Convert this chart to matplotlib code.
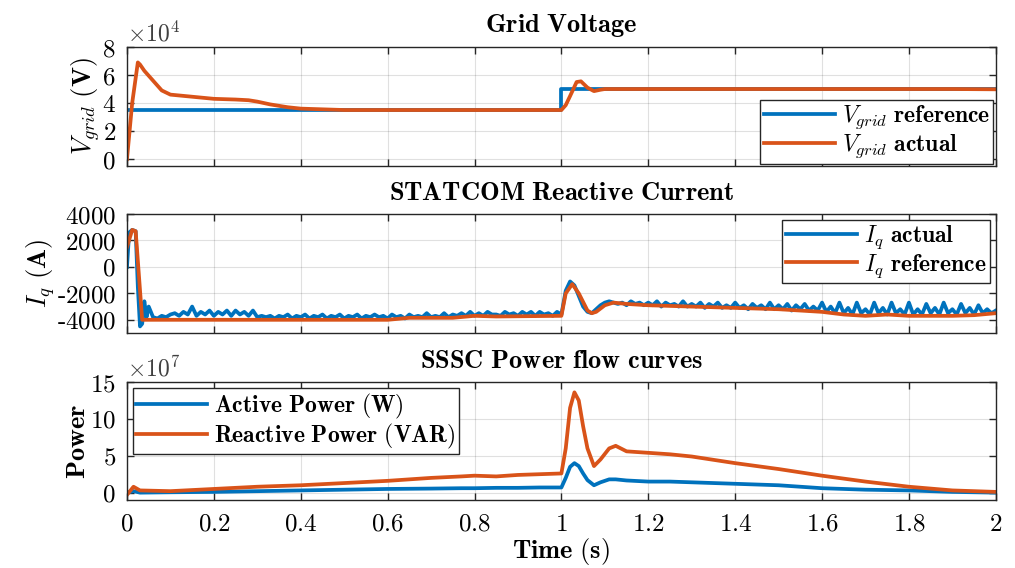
import numpy as np
import matplotlib.pyplot as plt
from matplotlib.ticker import FuncFormatter, MultipleLocator

plt.rcParams['mathtext.fontset'] = 'cm'
plt.rcParams['font.family'] = 'DejaVu Serif'

BLUE = '#0072BD'
ORANGE = '#D95319'

# grid voltage
vref_t = [0.0, 1.0, 1.0, 2.0]
vref = [35000, 35000, 50000, 50000]
vact_t = [0.0, 0.012, 0.025, 0.03, 0.04, 0.06, 0.08, 0.1, 0.15, 0.2, 0.25, 0.28, 0.3,
          0.33, 0.37, 0.4, 0.45, 0.5, 0.7, 0.9, 1.0, 1.01, 1.02, 1.035, 1.045, 1.06,
          1.075, 1.09, 1.1, 1.3, 1.5, 1.7, 1.9, 2.0]
vact = [0, 40000, 69000, 67500, 63000, 56000, 49000, 46000, 44500, 43000, 42500, 42000,
        41000, 39000, 37000, 36000, 35500, 35000, 35000, 35000, 35000, 38500, 45000,
        55000, 55500, 51000, 48500, 49500, 50000, 50000, 50000, 50000, 50000, 49800]

# STATCOM reactive current
iq_early_t = [0.0, 0.005, 0.012, 0.02, 0.025, 0.03, 0.035, 0.04, 0.045]
iq_early = [0, 2600, 2800, 2700, -1500, -4500, -4300, -2600, -3800]
iq_act = [
    -3000, -3800, -3900, -3700, -3800, -3600, -3500, -3700, -3400, -3600,
    -3000, -3700, -3400, -3600, -3300, -3700, -3400, -3600, -3300, -3700,
    -3300, -3600, -3400, -3700, -3300, -3800, -3700, -3800, -3700, -3900,
    -3700, -3800, -3600, -3900, -3700, -3800, -3600, -3900, -3700, -3800,
    -3600, -3900, -3700, -3800, -3600, -3900, -3700, -3800, -3600, -3900,
    -3700, -3800, -3600, -3800, -3700, -3900, -3600, -3800, -3700, -3900,
    -3600, -3800, -3700, -3800, -3500, -3800, -3700, -3800, -3500, -3800,
    -3600, -3700, -3500, -3700, -3400, -3700, -3500, -3700, -3400, -3600,
    -3600, -3700, -3400, -3600, -3500, -3700, -3400, -3600, -3400, -3700,
    -3400, -3600, -3500, -3700, -3400,
    -3600, -1800, -1100, -1400, -2200, -3000, -3400, -3500, -3200, -2900,
    -2700, -2600, -2700, -2800, -2700, -2900, -2600, -2800, -2700, -2900,
    -2700, -2900, -2600, -3000, -2700, -2900, -2800, -3000, -2600, -3000,
    -2800, -3000, -2700, -3100, -2800, -3000, -2700, -3100, -2900, -3100,
    -2700, -3100, -2900, -3200, -2800, -3100, -2900, -3200, -2700, -3200,
    -2900, -3200, -2800, -3300, -2900, -3200, -2800, -3300, -3000, -3300,
    -2700, -3400, -3000, -3500, -2700, -3500, -3100, -3600, -2700, -3500,
    -3200, -3600, -2700, -3500, -3100, -3600, -2700, -3500, -3200, -3600,
    -2700, -3600, -3200, -3600, -2800, -3500, -3100, -3600, -2700, -3500,
    -3200, -3600, -2800, -3500, -3100, -3600, -2900, -3500, -3200, -3500,
    -3300,
]
iq_ref_t = [0.0, 0.012, 0.02, 0.035, 0.6, 0.65, 0.75, 0.8, 0.85, 1.0, 1.01, 1.025,
            1.04, 1.06, 1.07, 1.08, 1.1, 1.12, 1.15, 1.2, 1.3, 1.4, 1.5, 1.6, 1.65,
            1.7, 1.75, 1.8, 1.9, 1.95, 2.0]
iq_ref = [1500, 2800, 2700, -4000, -4000, -3850, -3850, -3700, -3750, -3700, -2000,
          -1300, -2000, -3300, -3500, -3400, -2900, -2700, -2800, -2900, -3000, -3100,
          -3200, -3400, -3600, -3700, -3600, -3700, -3700, -3650, -3500]

# SSSC power flow
p_t = [0.0, 0.015, 0.03, 0.1, 0.2, 0.3, 0.4, 0.5, 0.6, 0.7, 0.77, 0.8, 0.85, 0.9,
       0.95, 1.0, 1.01, 1.02, 1.03, 1.04, 1.05, 1.06, 1.075, 1.09, 1.11, 1.125, 1.15,
       1.2, 1.25, 1.3, 1.4, 1.5, 1.6, 1.7, 1.8, 1.9, 2.0]
p_active = [0.0e7, 0.2e7, 0.0e7, 0.05e7, 0.1e7, 0.2e7, 0.3e7, 0.4e7, 0.5e7, 0.55e7,
            0.6e7, 0.6e7, 0.65e7, 0.65e7, 0.7e7, 0.7e7, 2.0e7, 3.5e7, 4.0e7, 3.6e7,
            2.6e7, 1.7e7, 1.0e7, 1.4e7, 1.8e7, 1.8e7, 1.65e7, 1.5e7, 1.5e7, 1.4e7,
            1.2e7, 1.0e7, 0.6e7, 0.4e7, 0.3e7, 0.1e7, 0.0e7]
p_reactive = [-0.3e7, 0.8e7, 0.3e7, 0.2e7, 0.5e7, 0.8e7, 1.0e7, 1.3e7, 1.6e7, 2.0e7,
              2.2e7, 2.3e7, 2.2e7, 2.4e7, 2.5e7, 2.6e7, 6.0e7, 11.5e7, 13.6e7, 12.5e7,
              9.0e7, 6.0e7, 3.6e7, 4.5e7, 6.0e7, 6.35e7, 5.6e7, 5.4e7, 5.2e7, 4.9e7,
              4.0e7, 3.2e7, 2.3e7, 1.5e7, 0.8e7, 0.3e7, 0.1e7]

iq_t = np.concatenate([iq_early_t, np.round(np.arange(0.05, 2.001, 0.01), 2)])
iq_vals = np.concatenate([iq_early, iq_act])

TICK_FS = 18
LABEL_FS = 19
LEG_FS = 17


def bf(s):
    return r'$\mathbf{' + s + '}$'


def num(v):
    # short hyphen for negative values, like the original MATLAB export
    s = '%g' % v
    if s.startswith('-'):
        return r'$\mathbf{\text{-}' + s[1:] + '}$'
    return bf(s)


def style(ax, ylim, yticks, scale=1.0, show_x=False):
    ax.set_xlim(0, 2)
    ax.set_ylim(*ylim)
    ax.set_yticks(yticks)
    ax.xaxis.set_major_locator(MultipleLocator(0.2))
    ax.yaxis.set_major_formatter(FuncFormatter(lambda v, p: num(v / scale)))
    if show_x:
        ax.xaxis.set_major_formatter(FuncFormatter(lambda v, p: num(round(v, 1))))
    else:
        ax.set_xticklabels([])
    ax.tick_params(direction='in', top=True, right=True, length=5, width=1,
                   labelsize=TICK_FS, color='#262626')
    ax.tick_params(axis='x', pad=9)
    ax.tick_params(axis='y', pad=8)
    ax.grid(True, color='#000000', alpha=0.12, linewidth=0.8)
    for s in ax.spines.values():
        s.set_color('#262626')
        s.set_linewidth(1.0)


def legend(ax, loc, pad):
    ax.legend(loc=loc, fontsize=LEG_FS, handlelength=3.0, fancybox=False,
              edgecolor='#262626', framealpha=1, borderpad=0.15, labelspacing=0.05,
              borderaxespad=pad, handletextpad=0.3)


fig = plt.figure(figsize=(10.15, 5.68), dpi=100)
ax1 = fig.add_axes([0.1251, 0.7077, 0.856, 0.2095])
ax2 = fig.add_axes([0.1251, 0.4137, 0.856, 0.2095])
ax3 = fig.add_axes([0.1251, 0.1197, 0.856, 0.2077])

lw = 2.7
ax1.plot(vref_t, vref, color=BLUE, lw=lw, label=r'$V_{grid}\ \mathbf{reference}$')
ax1.plot(vact_t, vact, color=ORANGE, lw=lw, label=r'$V_{grid}\ \mathbf{actual}$')
style(ax1, (-5000, 80000), [0, 20000, 40000, 60000, 80000], scale=1e4)
ax1.set_title(bf(r'Grid\ Voltage'), fontsize=LABEL_FS, pad=11)
ax1.set_ylabel(r'$V_{grid}\ \mathbf{(V)}$', fontsize=LABEL_FS, labelpad=0)
ax1.text(0, 1.05, r'$\times 10^4$', transform=ax1.transAxes, fontsize=17, color='#404040')
legend(ax1, 'lower right', 0.1)

ax2.plot(iq_t, iq_vals, color=BLUE, lw=lw, label=r'$I_q\ \mathbf{actual}$')
ax2.plot(iq_ref_t, iq_ref, color=ORANGE, lw=lw, label=r'$I_q\ \mathbf{reference}$')
style(ax2, (-5000, 4000), [-4000, -2000, 0, 2000, 4000])
ax2.set_title(bf(r'STATCOM\ Reactive\ Current'), fontsize=LABEL_FS, pad=10)
ax2.set_ylabel(r'$I_q\ \mathbf{(A)}$', fontsize=LABEL_FS, labelpad=0)
legend(ax2, 'upper right', 0.25)

ax3.plot(p_t, p_active, color=BLUE, lw=lw, label=bf(r'Active\ Power\ (W)'))
ax3.plot(p_t, p_reactive, color=ORANGE, lw=lw, label=bf(r'Reactive\ Power\ (VAR)'))
style(ax3, (-1e7, 15e7), [0, 5e7, 10e7, 15e7], scale=1e7, show_x=True)
ax3.set_title(bf(r'SSSC\ Power\ flow\ curves'), fontsize=LABEL_FS, pad=10)
ax3.set_ylabel(bf('Power'), fontsize=LABEL_FS, labelpad=0)
ax3.set_xlabel(bf(r'Time\ (s)'), fontsize=LABEL_FS, labelpad=0)
ax3.text(0, 1.05, r'$\times 10^7$', transform=ax3.transAxes, fontsize=17, color='#404040')
legend(ax3, 'upper left', 0.25)

fig.savefig('out.png', dpi=100)
